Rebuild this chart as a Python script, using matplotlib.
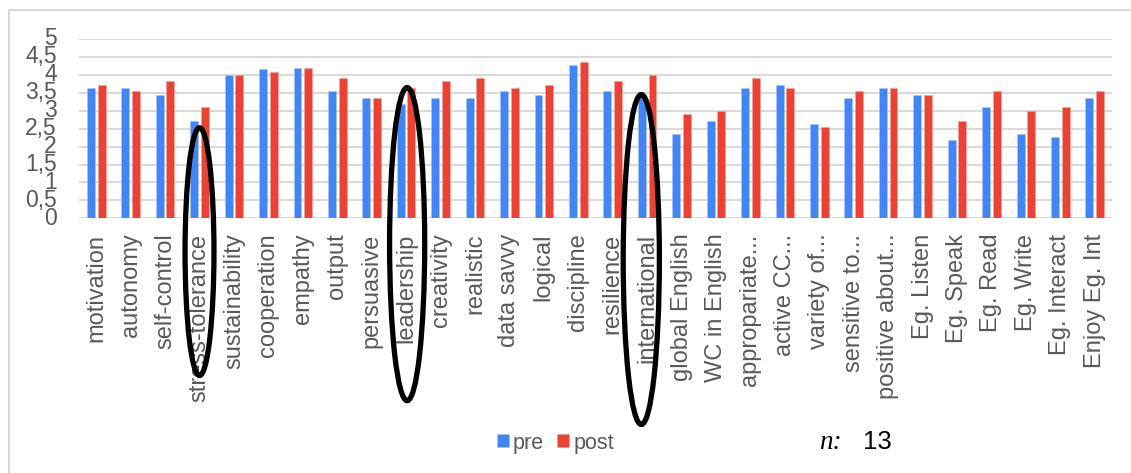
import numpy as np
import matplotlib.pyplot as plt
from matplotlib.patches import Ellipse
from matplotlib.lines import Line2D

plt.rcParams['font.family'] = ['Liberation Sans', 'DejaVu Sans']

# skill categories (x axis)
categories = ['motivation', 'autonomy', 'self-control', 'stress-tolerance',
              'sustainability', 'cooperation', 'empathy', 'output', 'persuasive',
              'leadership', 'creativity', 'realistic', 'data savvy', 'logical',
              'discipline', 'resilience', 'international', 'global English',
              'WC in English', 'appropariate...', 'active CC...', 'variety of...',
              'sensitive to...', 'positive about...', 'Eg. Listen', 'Eg. Speak',
              'Eg. Read', 'Eg. Write', 'Eg. Interact', 'Enjoy Eg. Int']

pre = [3.63, 3.63, 3.45, 2.72, 4.00, 4.17, 4.19, 3.54, 3.36,
       3.20, 3.36, 3.36, 3.54, 3.45, 4.27, 3.54, 3.45, 2.35,
       2.72, 3.63, 3.72, 2.63, 3.36, 3.63, 3.45, 2.17, 3.09,
       2.35, 2.27, 3.36]
post = [3.72, 3.54, 3.82, 3.09, 4.00, 4.08, 4.18, 3.90, 3.36,
        3.63, 3.82, 3.90, 3.63, 3.72, 4.36, 3.82, 4.00, 2.90,
        2.99, 3.90, 3.63, 2.54, 3.54, 3.63, 3.45, 2.72, 3.54,
        2.99, 3.09, 3.54]
yticks = [0, 0.5, 1, 1.5, 2, 2.5, 3, 3.5, 4, 4.5, 5]
ytick_labels = ['0', '0,5', '1', '1,5', '2', '2,5', '3', '3,5', '4', '4,5', '5']
n_participants = 13

# circled items in the original
highlights = ['stress-tolerance', 'leadership', 'international']

BLUE = '#4285F4'
RED = '#EA4335'
GRID = '#d9d9d9'
TEXT = '#595959'

fig = plt.figure(figsize=(11.31, 4.73), dpi=100)
ax = fig.add_axes([79 / 1131, 1 - 218.3 / 473, 1033 / 1131, (218.3 - 39) / 473])

x = np.arange(len(categories))
w = 0.23
ax.bar(x - 0.155, pre, width=w, color=BLUE, edgecolor='#a9c6fa', linewidth=0.4,
       label='pre', zorder=3)
ax.bar(x + 0.155, post, width=w, color=RED, edgecolor='#f4a29a', linewidth=0.4,
       label='post', zorder=3)

ax.set_xlim(-0.5, len(categories) - 0.5)
ax.set_ylim(0, 5)
ax.set_yticks(yticks)
ax.set_yticklabels(ytick_labels)
ax.set_xticks(x)
ax.set_xticklabels(categories, rotation=90)
ax.tick_params(axis='x', length=0, pad=11, labelsize=17, labelcolor=TEXT)
ax.tick_params(axis='y', length=0, pad=16, labelsize=16.5, labelcolor=TEXT)
for lbl in ax.get_yticklabels():
    lbl.set_verticalalignment('center')
ax.grid(axis='y', color=GRID, linewidth=1.4, zorder=0)
for s in ax.spines.values():
    s.set_visible(False)

# hand-drawn ellipses around the highlighted items (data units, drawn past the axes)
ell_shapes = {'stress-tolerance': (0.0, -0.93, 0.84, 6.91),
              'leadership': (0.03, -0.72, 1.02, 8.73),
              'international': (-0.17, -1.15, 1.05, 9.2)}
for name in highlights:
    dx, cy, ew, eh = ell_shapes[name]
    i = categories.index(name)
    ax.add_patch(Ellipse((i + dx, cy), ew, eh, fill=False, edgecolor='black',
                         linewidth=3.8, clip_on=False, zorder=10))

fig.legend(loc='center', bbox_to_anchor=(0.491, 0.0634), ncol=2, frameon=False,
           fontsize=15.5, handlelength=0.55, handleheight=0.55, handletextpad=0.2,
           columnspacing=0.6, labelcolor=TEXT, borderpad=0)

fig.text(819 / 1131, 1 - 442 / 473, 'n:', family='Liberation Serif', style='italic',
         fontsize=19.5, va='center', ha='left', color='black')
fig.text(863 / 1131, 1 - 442 / 473, str(n_participants), fontsize=18.5,
         va='center', ha='left', color='black')

# outer chart frame (left and top edges visible)
fig.add_artist(Line2D([8.5 / 1131, 8.5 / 1131], [0, 1 - 10 / 473],
                      transform=fig.transFigure, color=GRID, linewidth=1.5))
fig.add_artist(Line2D([8.5 / 1131, 1], [1 - 10 / 473, 1 - 10 / 473],
                      transform=fig.transFigure, color=GRID, linewidth=1.5))

fig.savefig('out.png', dpi=100)
